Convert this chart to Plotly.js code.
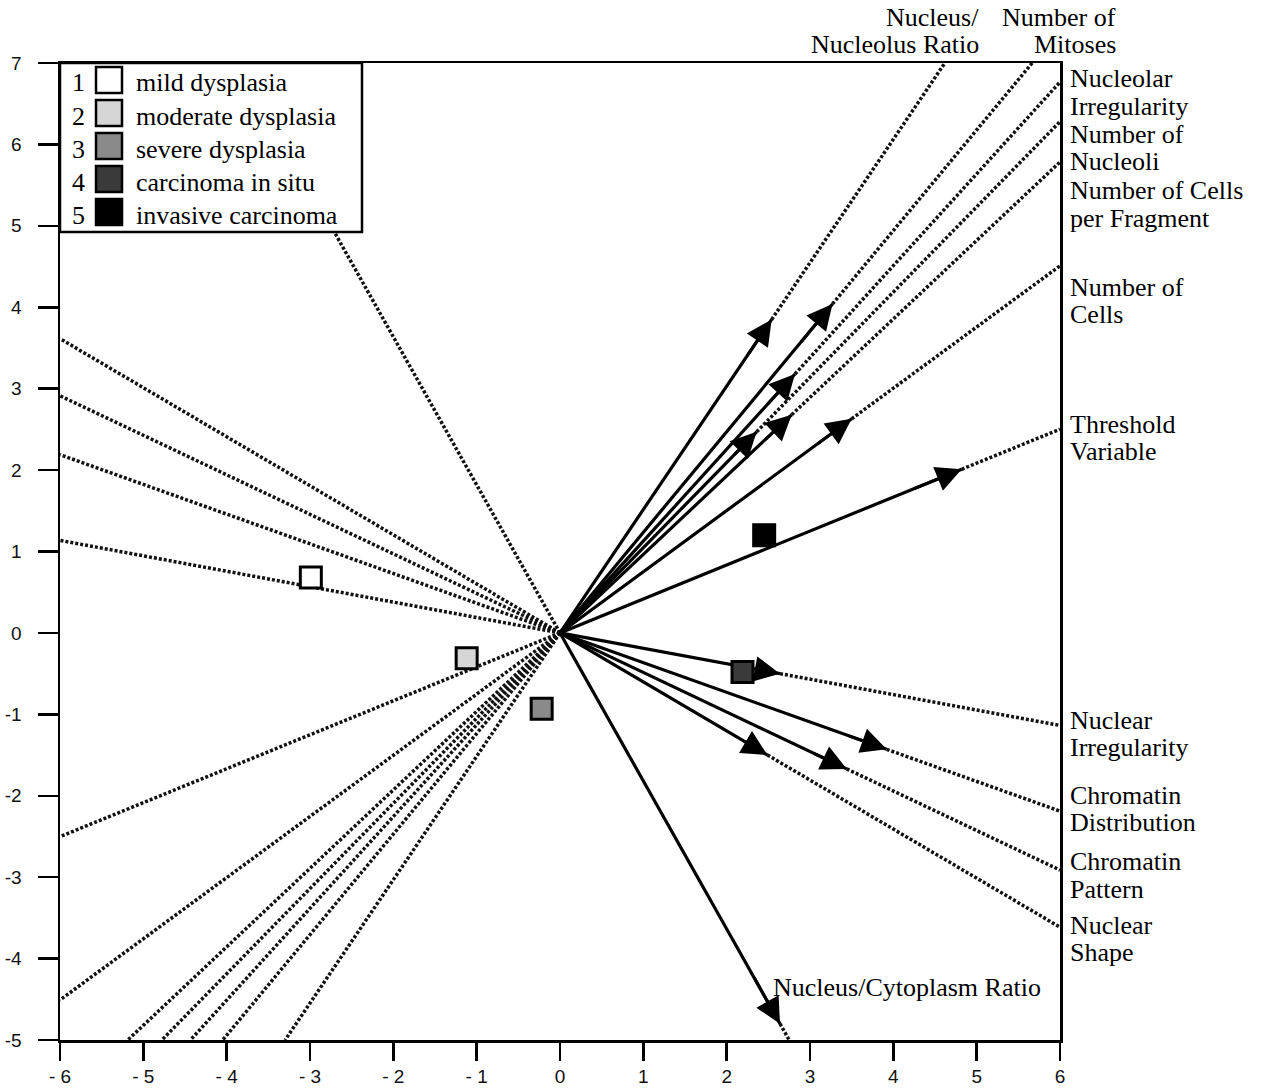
<!DOCTYPE html>
<html>
<head>
<meta charset="utf-8">
<script src="https://cdn.plot.ly/plotly-3.0.1.min.js"></script>
<style>html,body{margin:0;padding:0;background:#fff;}#chart{width:1261px;height:1088px;}</style>
</head>
<body>
<div id="chart"></div>
<script>
// ---------- DATA ----------
const varNames = [
  "Nucleus/ Nucleolus Ratio", "Number of Mitoses", "Nucleolar Irregularity",
  "Number of Nucleoli", "Number of Cells per Fragment", "Number of Cells",
  "Threshold Variable", "Nuclear Irregularity", "Chromatin Distribution",
  "Chromatin Pattern", "Nuclear Shape", "Nucleus/Cytoplasm Ratio"
];
const loadX = [2.54, 3.27, 2.82, 2.36, 2.78, 3.50, 4.82, 2.64, 3.92, 3.44, 2.49, 2.64];
const loadY = [3.85, 4.04, 3.18, 2.47, 2.68, 2.63, 2.01, -0.50, -1.43, -1.67, -1.50, -4.80];

const groupNums  = ["1", "2", "3", "4", "5"];
const groupNames = ["mild dysplasia", "moderate dysplasia", "severe dysplasia", "carcinoma in situ", "invasive carcinoma"];
const groupX = [-2.99, -1.12, -0.22, 2.19, 2.45];
const groupY = [0.68, -0.31, -0.93, -0.48, 1.20];

const xTickVals = [-6, -5, -4, -3, -2, -1, 0, 1, 2, 3, 4, 5, 6];
const xTickText = ["- 6", "- 5", "- 4", "- 3", "- 2", "- 1", "0", "1", "2", "3", "4", "5", "6"];
const yTickVals = [-5, -4, -3, -2, -1, 0, 1, 2, 3, 4, 5, 6, 7];
const yTickText = ["-5", "-4", "-3", "-2", "-1", "0", "1", "2", "3", "4", "5", "6", "7"];

// ---------- STYLE / LAYOUT CONSTANTS ----------
const groupFill = ["#ffffff", "#d6d6d6", "#8a8a8a", "#3a3a3a", "#000000"];
const W = 1261, H = 1088;
const M = {l: 60, r: 201, t: 63, b: 48};
const XR = [-6, 6], YR = [-5, 7];
const serif = "Liberation Serif, Times New Roman, serif";
const LBL = 26;

// label lines and pixel placement (left x or right x, center y of each line)
const labelSpec = [
  {lines: ["Nucleus/", "Nucleolus Ratio"], align: "right", px: 981, py: [17, 45]},
  {lines: ["Number of", "Mitoses"], align: "right", px: 1118, py: [17, 45]},
  {lines: ["Nucleolar", "Irregularity"], align: "left", px: 1068, py: [78, 106]},
  {lines: ["Number of", "Nucleoli"], align: "left", px: 1068, py: [134, 162]},
  {lines: ["Number of Cells", "per Fragment"], align: "left", px: 1068, py: [190, 218]},
  {lines: ["Number of", "Cells"], align: "left", px: 1068, py: [287, 314]},
  {lines: ["Threshold", "Variable"], align: "left", px: 1068, py: [424, 451]},
  {lines: ["Nuclear", "Irregularity"], align: "left", px: 1068, py: [720, 747]},
  {lines: ["Chromatin", "Distribution"], align: "left", px: 1068, py: [795, 822]},
  {lines: ["Chromatin", "Pattern"], align: "left", px: 1068, py: [862, 889]},
  {lines: ["Nuclear", "Shape"], align: "left", px: 1068, py: [925, 952]},
  {lines: ["Nucleus/Cytoplasm Ratio"], align: "left", px: 771, py: [987]}
];

// pixel -> paper helpers
const PW = W - M.l - M.r, PH = H - M.t - M.b;
const pxX = px => (px - M.l) / PW;
const pxY = py => (H - M.b - py) / PH;

// clip ray to axis box
function tExit(x0, y0, dx, dy) {
  let t = Infinity;
  if (dx > 0) t = Math.min(t, (XR[1] - x0) / dx);
  if (dx < 0) t = Math.min(t, (XR[0] - x0) / dx);
  if (dy > 0) t = Math.min(t, (YR[1] - y0) / dy);
  if (dy < 0) t = Math.min(t, (YR[0] - y0) / dy);
  return t;
}

// ---------- TRACES ----------
const dotX = [], dotY = [], shaftX = [], shaftY = [];
loadX.forEach((tx, i) => {
  const ty = loadY[i];
  const tp = tExit(tx, ty, tx, ty);
  dotX.push(tx, tx + tp * tx, null);
  dotY.push(ty, ty + tp * ty, null);
  const tn = tExit(0, 0, -tx, -ty);
  dotX.push(0, -tn * tx, null);
  dotY.push(0, -tn * ty, null);
  shaftX.push(0, tx, null);
  shaftY.push(0, ty, null);
});

const traces = [
  {x: dotX, y: dotY, mode: "lines", hoverinfo: "skip", showlegend: false,
   line: {color: "#111", width: 3.5, dash: "3px,2px"}},
  {x: shaftX, y: shaftY, mode: "lines", hoverinfo: "skip", showlegend: false,
   line: {color: "#000", width: 3.2}},
  {x: groupX, y: groupY, mode: "markers", showlegend: false, text: groupNames,
   marker: {symbol: "square", size: 21, color: groupFill, line: {color: "#000", width: 3}}}
];

// ---------- ANNOTATIONS ----------
const annotations = [];
loadX.forEach((tx, i) => {
  const ty = loadY[i];
  annotations.push({x: tx, y: ty, xref: "x", yref: "y", ax: tx * 0.88, ay: ty * 0.88,
    axref: "x", ayref: "y", text: "", showarrow: true, arrowhead: 2, arrowsize: 1.7,
    arrowwidth: 3, arrowcolor: "#000", standoff: 0, startstandoff: 0});
});
labelSpec.forEach(s => {
  s.lines.forEach((ln, j) => {
    annotations.push({xref: "paper", yref: "paper", x: pxX(s.px), y: pxY(s.py[j]),
      xanchor: s.align, yanchor: "middle", text: ln, showarrow: false,
      font: {family: serif, size: LBL, color: "#000"}});
  });
});

// legend
const shapes = [{type: "rect", xref: "paper", yref: "paper", layer: "above",
  x0: pxX(60), x1: pxX(362), y0: pxY(232), y1: pxY(63),
  fillcolor: "#fff", line: {color: "#000", width: 2.5}}];
const legRowY = [80, 113, 146, 179, 212];
groupNames.forEach((g, i) => {
  const cy = legRowY[i];
  shapes.push({type: "rect", xref: "paper", yref: "paper", layer: "above",
    x0: pxX(96), x1: pxX(122), y0: pxY(cy + 13), y1: pxY(cy - 13),
    fillcolor: groupFill[i], line: {color: "#000", width: 2.5}});
  annotations.push({xref: "paper", yref: "paper", x: pxX(87), y: pxY(cy + 3),
    xanchor: "right", yanchor: "middle", text: groupNums[i], showarrow: false,
    font: {family: serif, size: LBL, color: "#000"}});
  annotations.push({xref: "paper", yref: "paper", x: pxX(134), y: pxY(cy + 3),
    xanchor: "left", yanchor: "middle", text: g, showarrow: false,
    font: {family: serif, size: LBL, color: "#000"}});
});

const axisCommon = {showline: true, linewidth: 2.5, linecolor: "#000", mirror: true,
  ticks: "outside", tickwidth: 2.5, tickcolor: "#000", showgrid: false, zeroline: false,
  tickmode: "array", fixedrange: true,
  tickfont: {family: "Liberation Sans, Arial, sans-serif", size: 19, color: "#111"}};

const layout = {
  width: W, height: H, margin: M, paper_bgcolor: "#fff", plot_bgcolor: "#fff",
  showlegend: false,
  xaxis: Object.assign({}, axisCommon, {range: XR, tickvals: xTickVals, ticktext: xTickText, ticklen: 18}),
  yaxis: Object.assign({}, axisCommon, {range: YR, tickvals: yTickVals, ticktext: yTickText, ticklen: 20, ticklabelstandoff: 12}),
  annotations: annotations, shapes: shapes
};

Plotly.newPlot("chart", traces, layout, {displayModeBar: false, staticPlot: true});
</script>
</body>
</html>
